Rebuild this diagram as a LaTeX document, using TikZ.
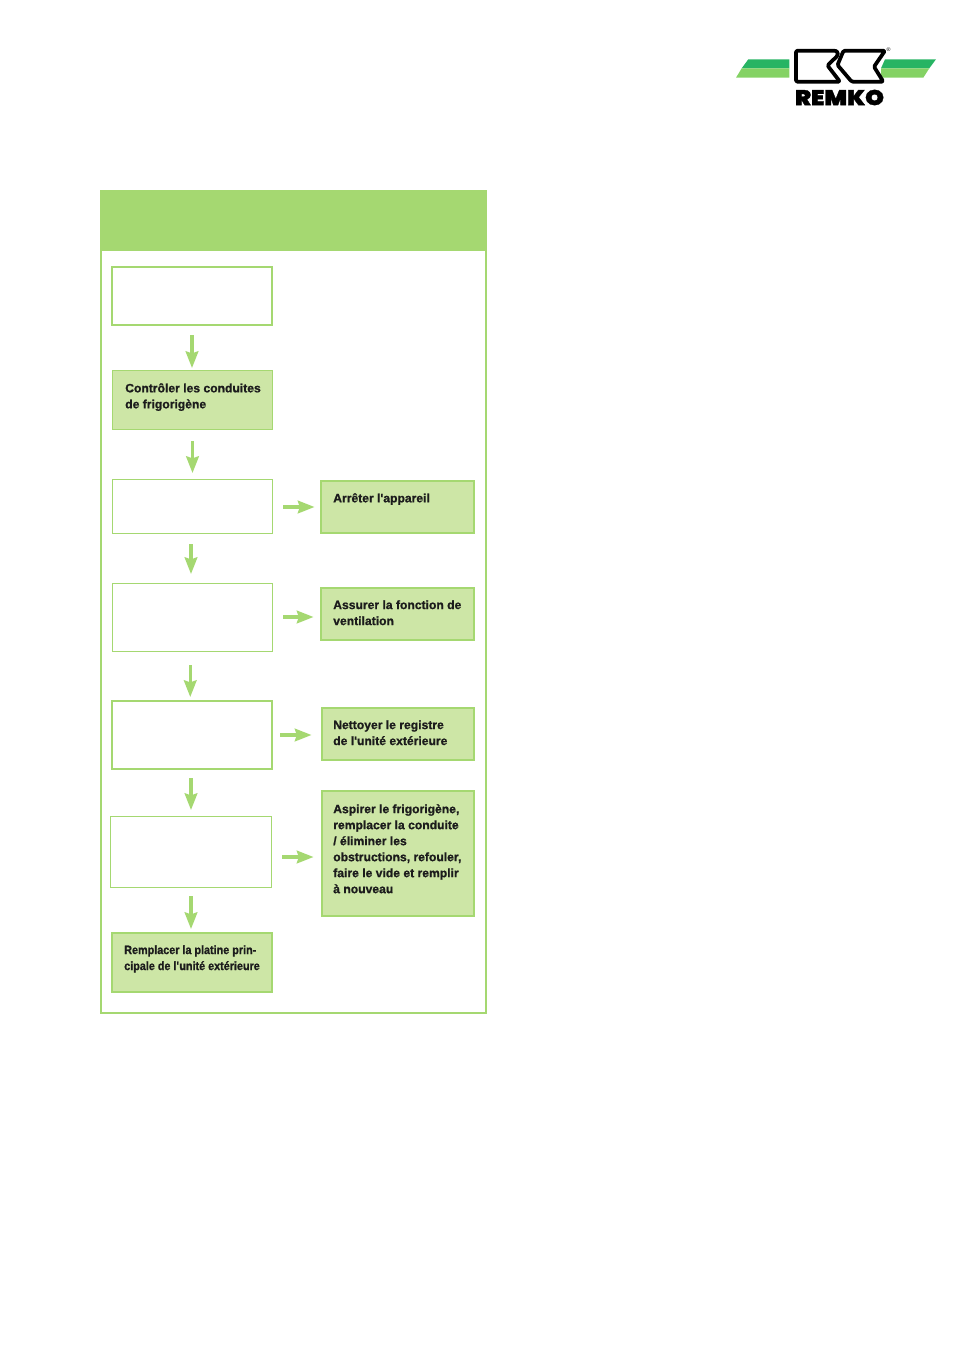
\documentclass[tikz,border=0pt]{standalone}
\usepackage{graphicx}
\usepackage{fontspec}
\setmainfont{Liberation Sans}[BoldFeatures={FakeBold=1}]
\newfontfamily\logofont{Poppins Black}[FakeBold=1.5]
\newfontfamily\narrowbold{Liberation Sans Bold}[FakeStretch=0.89,FakeBold=1]
\usetikzlibrary{arrows.meta}
\definecolor{gframe}{HTML}{A5D871}
\definecolor{gfill}{HTML}{CDE6A6}
\definecolor{gdark}{HTML}{27B463}
\definecolor{glight}{HTML}{84D264}
\definecolor{inkc}{HTML}{1C1C1C}
\tikzset{
  x=0.75pt,y=-0.75pt,
  whitebox/.style={draw=gframe,fill=white,anchor=north west,inner sep=0pt,outer sep=0pt},
  greenbox/.style={whitebox,fill=gfill},
  boxtext/.style={anchor=north west,inner sep=0pt,align=left,text=inkc,font=\fontsize{9.1}{12}\selectfont\bfseries},
  narrowtext/.style={boxtext,font=\fontsize{9.1}{12}\narrowbold},
  flow/.style={draw=gframe,line width=2.3pt,-{Stealth[length=12.5pt,width=9.5pt,inset=1.5pt]}},
  logoline/.style={draw=black,line width=2.8pt,line join=round,fill=white},
}
\newcommand{\bx}[7]{\node[#1,line width=#2pt,minimum width=#5*0.75pt,minimum height=#6*0.75pt] (#7) at (#3,#4) {};}
\newcommand{\ap}{\textquotesingle}
\begin{document}
\begin{tikzpicture}
\useasboundingbox (0,0) rectangle (954,1350);
% frame
\bx{whitebox}{1.5}{101}{191}{385}{822}{frame}
\fill[gframe] (100,190) rectangle (487,251);
% left column
\bx{whitebox}{1.5}{112}{267}{160}{58}{a}
\bx{greenbox}{1.1}{112.5}{370.5}{160}{59}{b}
\bx{whitebox}{0.7}{112.5}{479.5}{160}{54}{c}
\bx{whitebox}{0.7}{112}{583.5}{160.5}{68}{d}
\bx{whitebox}{1.5}{112}{701}{160}{68}{e}
\bx{whitebox}{0.9}{110.5}{816.5}{161}{71}{f}
\bx{greenbox}{1.5}{112}{933}{160}{59}{g}
% right column
\bx{greenbox}{1.5}{321}{481}{153}{52}{p}
\bx{greenbox}{1.5}{321}{588}{153}{52}{q}
\bx{greenbox}{1.5}{322}{708}{152}{52}{r}
\bx{greenbox}{1.5}{322}{791}{152}{125}{s}
% texts
\node[boxtext] (tb) at (125,383) {Contrôler les conduites\\de frigorigène};
\node[narrowtext] (tg) at (124,945) {Remplacer la platine prin-\\cipale de l\ap unité extérieure};
\node[boxtext] (tp) at (333,493) {Arrêter l\ap appareil};
\node[boxtext] (tq) at (333,600) {Assurer la fonction de\\ventilation};
\node[boxtext] (tr) at (333,720) {Nettoyer le registre\\de l\ap unité extérieure};
\node[boxtext] (ts) at (333,804) {Aspirer le frigorigène,\\remplacer la conduite\\/ éliminer les\\obstructions, refouler,\\faire le vide et remplir\\à nouveau};
% arrow end points
\coordinate (a1) at (a.south |- 0,335);
\coordinate (b1) at (a.south |- 0,368);
\coordinate (a2) at (b.south |- 0,441);
\coordinate (b2) at (b.south |- 0,473);
\coordinate (a3) at ([xshift=-1.5*0.75pt]c.south |- 0,544);
\coordinate (b3) at ([xshift=-1.5*0.75pt]c.south |- 0,574);
\coordinate (a4) at ([xshift=-2*0.75pt]d.south |- 0,665);
\coordinate (b4) at ([xshift=-2*0.75pt]d.south |- 0,697);
\coordinate (a5) at ([xshift=-1*0.75pt]e.south |- 0,778);
\coordinate (b5) at ([xshift=-1*0.75pt]e.south |- 0,810);
\coordinate (a6) at (f.south |- 0,896);
\coordinate (b6) at (f.south |- 0,929);
\draw[flow] (a1) -- (b1);
\draw[flow] (a2) -- (b2);
\draw[flow] (a3) -- (b3);
\draw[flow] (a4) -- (b4);
\draw[flow] (a5) -- (b5);
\draw[flow] (a6) -- (b6);
% horizontal arrows
\coordinate (c1) at (283,507); \coordinate (d1) at (314.5,507);
\coordinate (c2) at (283,617); \coordinate (d2) at (313.5,617);
\coordinate (c3) at (280,735); \coordinate (d3) at (311.5,735);
\coordinate (c4) at (282,857); \coordinate (d4) at (313.5,857);
\draw[flow] (c1) -- (d1);
\draw[flow] (c2) -- (d2);
\draw[flow] (c3) -- (d3);
\draw[flow] (c4) -- (d4);
% logo bars
\fill[gdark] (748.3,59.3) -- (789.3,59.3) -- (789.3,68.3) -- (741.7,68.3) -- cycle;
\fill[glight] (741.7,68.3) -- (789.3,68.3) -- (789.3,77.7) -- (736,77.7) -- cycle;
\fill[gdark] (885,59.3) -- (936,59.3) -- (929.3,68.3) -- (881,68.3) -- cycle;
\fill[glight] (881,68.3) -- (929.3,68.3) -- (923.3,77.7) -- (881,77.7) -- cycle;
% logo mark
\draw[logoline,rounded corners=1pt] (796,50.7) -- (832,50.7) .. controls (840,50.7) and (838,56) .. (834,59) -- (827.5,65.5) -- (840,81.7) -- (796,81.7) -- cycle;
\draw[logoline,rounded corners=1pt] (843.5,50.7) -- (885,50.7) -- (874,66.7) -- (883.3,81.7) -- (851.7,81.7) -- (837.5,65) -- cycle;
\node[inner sep=0pt] (logotext) at (839.5,97.5) {\resizebox{66.75pt}{11.5pt}{\logofont REMKO}};
\node[inner sep=0pt,font=\fontsize{4}{4}\selectfont] (reg) at (888.5,50) {®};
\end{tikzpicture}
\end{document}
